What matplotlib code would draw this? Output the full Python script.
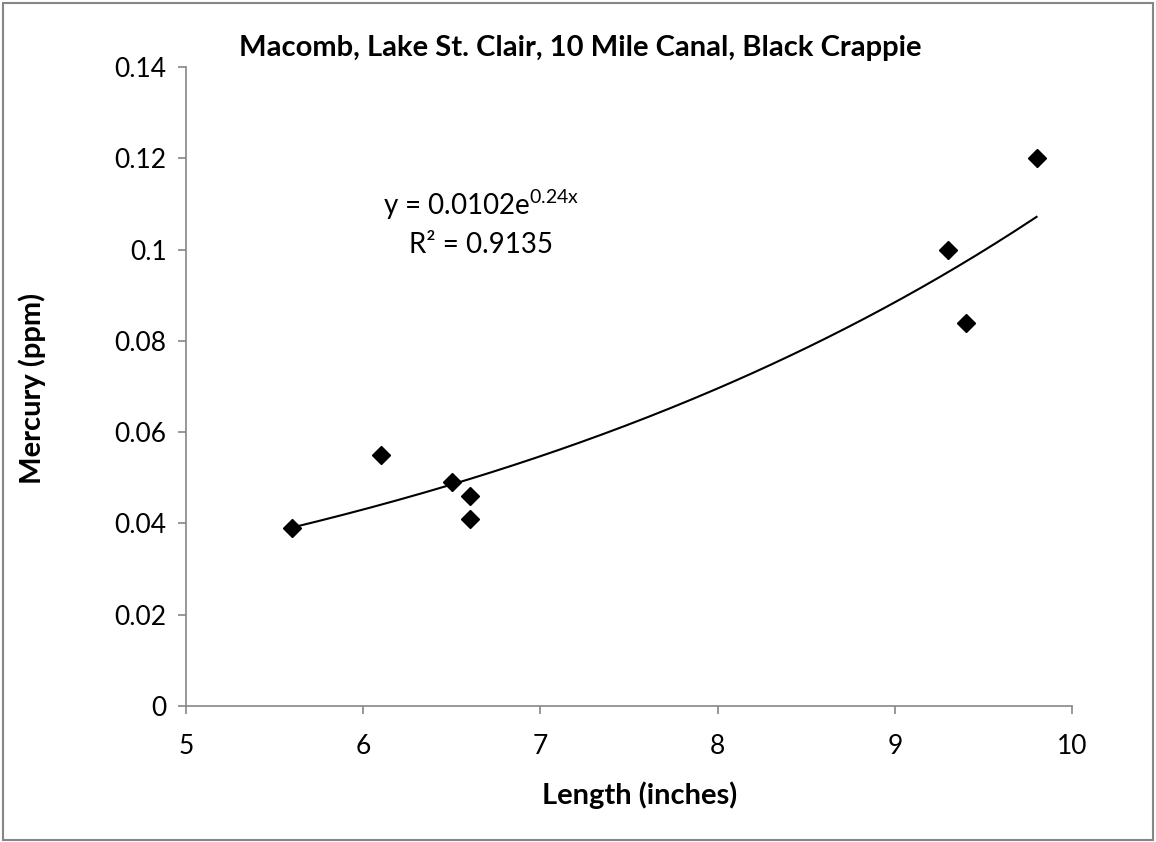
import matplotlib
matplotlib.use("Agg")
import matplotlib.pyplot as plt
import numpy as np
from matplotlib.patches import Rectangle

plt.rcParams['font.family'] = ['Lato', 'DejaVu Sans']

length = [5.6, 6.1, 6.5, 6.6, 6.6, 9.3, 9.4, 9.8]
mercury = [0.039, 0.055, 0.049, 0.046, 0.041, 0.100, 0.084, 0.120]
fit_a = 0.0102
fit_b = 0.24
r2 = 0.9135
xticks = [5, 6, 7, 8, 9, 10]
yticks = [0, 0.02, 0.04, 0.06, 0.08, 0.1, 0.12, 0.14]
yticklabels = ['0', '0.02', '0.04', '0.06', '0.08', '0.1', '0.12', '0.14']

W, H = 1156, 842
fig = plt.figure(figsize=(W / 100, H / 100), dpi=100)
fig.patches.append(Rectangle((0.003, 0.002), 0.994, 0.994, transform=fig.transFigure,
                             fill=False, edgecolor='#868686', linewidth=1.5))
ax = fig.add_axes([186 / W, 1 - 706 / H, (1072 - 186) / W, (706 - 67) / H])

xs = np.linspace(min(length), max(length), 200)
ax.plot(xs, fit_a * np.exp(fit_b * xs), color='black', linewidth=1.5, zorder=2)
ax.plot(length, mercury, linestyle='none', marker='D', markersize=9.5,
        color='black', zorder=3)

ax.set_xlim(5, 10)
ax.set_ylim(0, 0.14)
ax.set_xticks(xticks)
ax.set_yticks(yticks)
ax.set_yticklabels(yticklabels)
for s in ['top', 'right']:
    ax.spines[s].set_visible(False)
for s in ['left', 'bottom']:
    ax.spines[s].set_color('#868686')
    ax.spines[s].set_linewidth(1.2)
ax.tick_params(axis='both', direction='out', length=6, width=1.2, color='#868686',
               labelsize=19)
ax.tick_params(axis='y', pad=8)
ax.tick_params(axis='x', pad=14)

fig.text(580 / W, 1 - 48 / H, 'Macomb, Lake St. Clair, 10 Mile Canal, Black Crappie',
         ha='center', va='center', fontsize=21, fontweight='bold')
fig.text(640 / W, 1 - 795 / H, 'Length (inches)',
         ha='center', va='center', fontsize=21, fontweight='bold')
fig.text(32 / W, 1 - 388 / H, 'Mercury (ppm)', rotation=90,
         ha='center', va='center', fontsize=21, fontweight='bold')

ax.text(0.333, 0.784, r'y = 0.0102e$^{\mathregular{0.24x}}$', transform=ax.transAxes,
        ha='center', va='center', fontsize=20)
ax.text(0.333, 0.721, 'R² = 0.9135', transform=ax.transAxes,
        ha='center', va='center', fontsize=20)

fig.savefig('out.png', dpi=100)
